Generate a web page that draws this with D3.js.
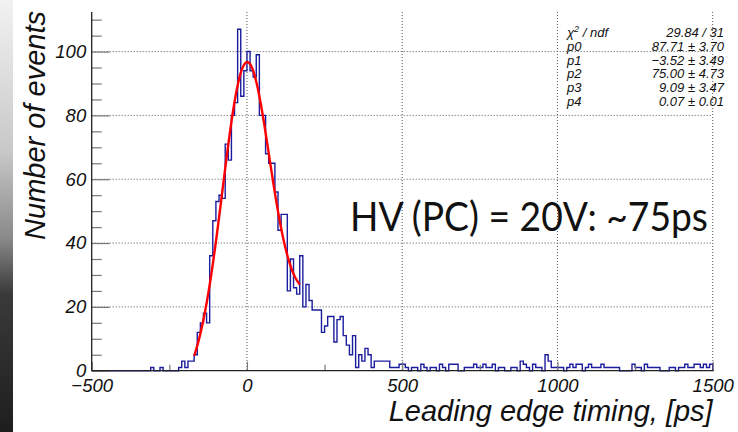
<!DOCTYPE html>
<html><head><meta charset="utf-8">
<script src="https://cdn.jsdelivr.net/npm/d3@7/dist/d3.min.js"></script>
<style>
html,body{margin:0;padding:0;background:#fff;}
svg{display:block;}
</style></head>
<body>
<svg id="chart" width="738" height="432"></svg>
<script>
// ---------------- data ----------------
const binStart = -500;
const binWidth = 10;
// counts per 10 ps bin from -500 to 1500 (200 bins)
const counts = [
  0,0,0,0,0,0,0,0,0,0,            // -500 .. -410
  0,0,0,0,0,0,0,0,0,1,            // -400 .. -310
  0,0,1,0,0,0,0,0,1,3,            // -300 .. -210
  1,3,3,5,12,15,18,15,36,47,      // -200 .. -110
  53,55,54,71,66,80,84,107,86,94, // -100 .. -10
  100,94,92,99,80,80,68,65,65,56, // 0 .. 90
  44,49,49,25,35,26,24,36,20,27,  // 100 .. 190
  22,19,19,19,12,14,17,17,9,16,   // 200 .. 290
  17,11,8,5,11,1,5,3,7,5,         // 300 .. 390
  1,3,3,3,3,3,1,1,1,2,            // 400 .. 490
  2,1,0,1,1,0,2,1,0,1,            // 500 .. 590
  1,0,2,1,0,2,2,2,0,0,            // 600 .. 690
  1,1,1,2,1,1,2,1,1,2,            // 700 .. 790
  0,1,1,0,0,1,1,0,3,2,            // 800 .. 890
  1,0,2,1,1,0,5,3,1,1,            // 900 .. 990
  1,1,0,1,2,1,2,2,0,1,            // 1000 .. 1090
  2,1,1,1,2,1,1,1,1,1,            // 1100 .. 1190
  0,0,0,0,2,1,1,0,2,1,            // 1200 .. 1290
  1,1,1,0,0,0,1,1,0,1,            // 1300 .. 1390
  1,2,1,1,2,2,1,2,1,2             // 1400 .. 1490
];
const xTicksMajor = [-500, 0, 500, 1000, 1500];
const xTicksMinor = [-250, 250, 750, 1250];
const yTicksMajor = [0, 20, 40, 60, 80, 100];
const yTicksMinor = [5,10,15,25,30,35,45,50,55,65,70,75,85,90,95,105,110];
// fit: gaus(p0,p1,p2) + pol1(p3,p4), fitted range
const fitParams = [87.71, -3.52, 75.00, 9.09, 0.07];
const fitRange = [-170, 170];
const statNames = ["χ2 / ndf", "p0", "p1", "p2", "p3", "p4"];
const statValues = ["29.84 / 31", "87.71 ± 3.70", "\u22123.52 ± 3.49", "75.00 ± 4.73", "9.09 ± 3.47", "0.07 ± 0.01"];
const xTitle = "Leading edge timing, [ps]";
const yTitle = "Number of events";
const note = "HV (PC) = 20V: ~75ps";

// ---------------- drawing ----------------
const svg = d3.select("#chart");
const L = 91.7, R = 712.7, T = 12, B = 370.7;
const x = d3.scaleLinear().domain([-500, 1500]).range([L, R]);
const y = d3.scaleLinear().domain([0, 112.4]).range([B, T]);
const font = "'Liberation Sans', Arial, Helvetica, sans-serif";

// left strip (photo edge)
const defs = svg.append("defs");
const grad = defs.append("linearGradient").attr("id","edge").attr("x1",0).attr("x2",0).attr("y1",0).attr("y2",1);
[[0,"#f2f2f2"],[0.35,"#c8c8c8"],[0.55,"#8a8a8a"],[0.68,"#3a3a3a"],[1,"#1e1e1e"]].forEach(s=>
  grad.append("stop").attr("offset",s[0]).attr("stop-color",s[1]));
svg.append("rect").attr("x",0).attr("y",0).attr("width",13).attr("height",432).attr("fill","url(#edge)");

// grid
const grid = svg.append("g").attr("stroke","#555").attr("stroke-width",1).attr("stroke-dasharray","1,2").attr("fill","none");
xTicksMajor.filter(v=>v>-500).forEach(v=>{
  grid.append("line").attr("x1",x(v)).attr("x2",x(v)).attr("y1",T).attr("y2",B);
});
yTicksMajor.filter(v=>v>0).forEach(v=>{
  grid.append("line").attr("x1",L).attr("x2",R).attr("y1",y(v)).attr("y2",y(v));
});

// histogram step outline
let p = d3.path();
p.moveTo(x(binStart), y(0));
counts.forEach((c,i)=>{
  const x0 = binStart + i*binWidth;
  p.lineTo(x(x0), y(c));
  p.lineTo(x(x0+binWidth), y(c));
});
p.lineTo(x(binStart + counts.length*binWidth), y(0));
svg.append("path").attr("d", p.toString()).attr("fill","none")
  .attr("stroke","#1c1c9e").attr("stroke-width",1.4).attr("stroke-linejoin","miter");

// fit curve
const f = t => fitParams[0]*Math.exp(-0.5*Math.pow((t-fitParams[1])/fitParams[2],2)) + fitParams[3] + fitParams[4]*t;
const fitPts = d3.range(fitRange[0], fitRange[1]+0.001, 2).map(t=>[t, f(t)]);
svg.append("path").datum(fitPts)
  .attr("d", d3.line().x(d=>x(d[0])).y(d=>y(d[1])).curve(d3.curveLinear))
  .attr("fill","none").attr("stroke","#ff0000").attr("stroke-width",2.4);

// axes
const xAxisMajor = d3.axisBottom(x).tickValues(xTicksMajor).tickSize(-9).tickSizeOuter(0)
  .tickFormat(d=> d<0 ? "\u2212"+Math.abs(d) : d).tickPadding(12);
const gx = svg.append("g").attr("transform",`translate(0,${B})`).call(xAxisMajor);
const gxm = svg.append("g").attr("transform",`translate(0,${B})`)
  .call(d3.axisBottom(x).tickValues(xTicksMinor).tickSize(-6).tickSizeOuter(0).tickFormat(""));
const yAxisMajor = d3.axisLeft(y).tickValues(yTicksMajor).tickSize(-18).tickSizeOuter(0).tickPadding(6);
const gy = svg.append("g").attr("transform",`translate(${L},0)`).call(yAxisMajor);
const gym = svg.append("g").attr("transform",`translate(${L},0)`)
  .call(d3.axisLeft(y).tickValues(yTicksMinor).tickSize(-10).tickSizeOuter(0).tickFormat(""));
[gx,gxm,gy,gym].forEach(g=>{
  g.select(".domain").remove();
  g.selectAll(".tick line").attr("stroke","#777").attr("stroke-width",1.2);
});
gx.selectAll(".tick text").attr("font-family",font).attr("font-style","italic").attr("font-size",18.5).attr("fill","#111").attr("dy","0.71em").attr("y",8);
gy.selectAll(".tick text").attr("font-family",font).attr("font-style","italic").attr("font-size",18.5).attr("fill","#111").attr("x",-5.5);
// axis lines
svg.append("line").attr("x1",L).attr("x2",L).attr("y1",T).attr("y2",B).attr("stroke","#222").attr("stroke-width",1.3);
svg.append("line").attr("x1",L).attr("x2",R+1).attr("y1",B).attr("y2",B).attr("stroke","#222").attr("stroke-width",1.3);

// axis titles
svg.append("text").attr("x",R).attr("y",421).attr("text-anchor","end")
  .attr("font-family",font).attr("font-style","italic").attr("font-size",29).attr("fill","#111").text(xTitle);
svg.append("text").attr("transform",`translate(45,${T-1}) rotate(-90)`).attr("text-anchor","end")
  .attr("font-family",font).attr("font-style","italic").attr("font-size",29).attr("fill","#111").text(yTitle);

// stats box text
const st = svg.append("g").attr("font-family",font).attr("font-style","italic").attr("font-size",13).attr("fill","#111");
statNames.forEach((n,i)=>{
  const yy = 37 + i*13.8;
  const t = st.append("text").attr("x",567).attr("y",yy);
  if(i===0){
    t.append("tspan").text("χ");
    t.append("tspan").attr("font-size",9).attr("dy",-5).text("2");
    t.append("tspan").attr("dy",5).text(" / ndf");
  } else t.text(n);
  st.append("text").attr("x",724).attr("y",yy).attr("text-anchor","end").text(statValues[i]);
});

// annotation
svg.append("text").attr("x",350).attr("y",231).attr("font-family","Lato, 'Open Sans', sans-serif")
  .attr("font-size",40).attr("fill","#111").attr("textLength",358).attr("lengthAdjust","spacingAndGlyphs").text(note);
</script>
</body></html>
